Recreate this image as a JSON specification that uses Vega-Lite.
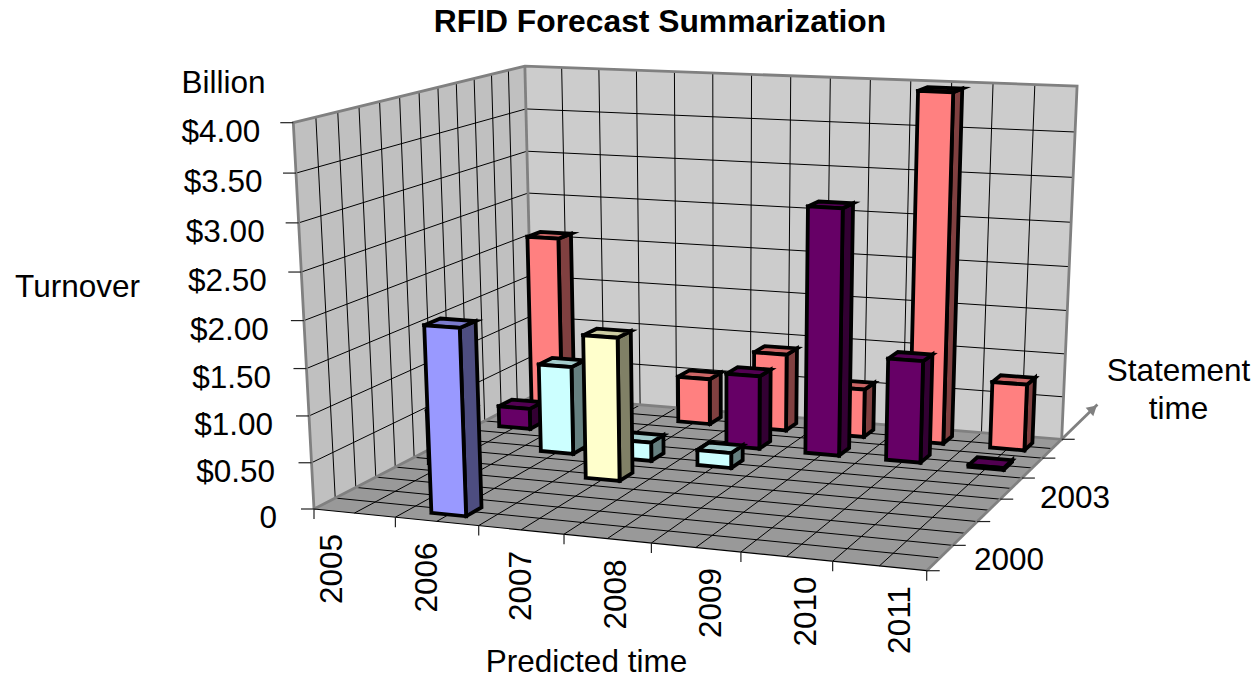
{
"$schema":"https://vega.github.io/schema/vega-lite/v6.json",
"width":1260,"height":677,"padding":0,"autosize":{"type":"none"},"background":"white",
"title":{"text":"RFID Forecast Summarization","font":"Liberation Sans","fontSize":31.8,"fontWeight":"bold","color":"#000","anchor":"middle","dx":30,"offset":-39},
"config":{"view":{"stroke":null}},
"datasets":{
"bars":[
{"predicted":2005,"statement":2005,"turnover":2.09},
{"predicted":2007,"statement":2005,"turnover":0.54},
{"predicted":2008,"statement":2005,"turnover":0.9},
{"predicted":2009,"statement":2005,"turnover":0.56},
{"predicted":2010,"statement":2005,"turnover":3.96},
{"predicted":2011,"statement":2005,"turnover":0.76},
{"predicted":2005,"statement":2004,"turnover":0.24},
{"predicted":2008,"statement":2004,"turnover":0.84},
{"predicted":2009,"statement":2004,"turnover":2.78},
{"predicted":2010,"statement":2004,"turnover":1.15},
{"predicted":2011,"statement":2004,"turnover":0.02},
{"predicted":2006,"statement":2003,"turnover":1.0},
{"predicted":2007,"statement":2003,"turnover":0.21},
{"predicted":2008,"statement":2003,"turnover":0.17},
{"predicted":2005,"statement":2002,"turnover":0.6},
{"predicted":2007,"statement":2002,"turnover":1.58},
{"predicted":2006,"statement":2000,"turnover":1.98}
],
"frame":[
{"part":"floor","n":0,"predicted":2005,"statement":2000,"turnover":0},
{"part":"floor","n":1,"predicted":2012,"statement":2000,"turnover":0},
{"part":"floor","n":2,"predicted":2012,"statement":2006,"turnover":0},
{"part":"floor","n":3,"predicted":2005,"statement":2006,"turnover":0},
{"part":"floor","n":4,"predicted":2005,"statement":2000,"turnover":0},
{"part":"left","n":0,"predicted":2005,"statement":2000,"turnover":0},
{"part":"left","n":1,"predicted":2005,"statement":2006,"turnover":0},
{"part":"left","n":2,"predicted":2005,"statement":2006,"turnover":4},
{"part":"left","n":3,"predicted":2005,"statement":2000,"turnover":4},
{"part":"left","n":4,"predicted":2005,"statement":2000,"turnover":0},
{"part":"back","n":0,"predicted":2005,"statement":2006,"turnover":0},
{"part":"back","n":1,"predicted":2012,"statement":2006,"turnover":0},
{"part":"back","n":2,"predicted":2012,"statement":2006,"turnover":4},
{"part":"back","n":3,"predicted":2005,"statement":2006,"turnover":4},
{"part":"back","n":4,"predicted":2005,"statement":2006,"turnover":0},
{"part":"rim1","n":0,"predicted":2005,"statement":2000,"turnover":0},
{"part":"rim1","n":1,"predicted":2005,"statement":2000,"turnover":4},
{"part":"rim1","n":2,"predicted":2005,"statement":2006,"turnover":4},
{"part":"rim1","n":3,"predicted":2012,"statement":2006,"turnover":4},
{"part":"rim1","n":4,"predicted":2012,"statement":2006,"turnover":0},
{"part":"rim1","n":5,"predicted":2005,"statement":2006,"turnover":0},
{"part":"rim1","n":6,"predicted":2005,"statement":2000,"turnover":0},
{"part":"rim2","n":0,"predicted":2005,"statement":2006,"turnover":4},
{"part":"rim2","n":1,"predicted":2005,"statement":2006,"turnover":0},
{"part":"rim3","n":0,"predicted":2012,"statement":2000,"turnover":0},
{"part":"rim3","n":1,"predicted":2012,"statement":2008,"turnover":0},
{"part":"front","n":0,"predicted":2005,"statement":2000,"turnover":0},
{"part":"front","n":1,"predicted":2012,"statement":2000,"turnover":0},
{"part":"head","n":0,"predicted":2012,"statement":2007.75,"turnover":0}
],
"grid":[
{"gridOf":"turnover","at":0.5},{"gridOf":"turnover","at":1},{"gridOf":"turnover","at":1.5},{"gridOf":"turnover","at":2},{"gridOf":"turnover","at":2.5},{"gridOf":"turnover","at":3},{"gridOf":"turnover","at":3.5},
{"gridOf":"predicted","at":2005.5},{"gridOf":"predicted","at":2006},{"gridOf":"predicted","at":2006.5},{"gridOf":"predicted","at":2007},{"gridOf":"predicted","at":2007.5},{"gridOf":"predicted","at":2008},{"gridOf":"predicted","at":2008.5},{"gridOf":"predicted","at":2009},{"gridOf":"predicted","at":2009.5},{"gridOf":"predicted","at":2010},{"gridOf":"predicted","at":2010.5},{"gridOf":"predicted","at":2011},{"gridOf":"predicted","at":2011.5},
{"gridOf":"statement","at":2000.5},{"gridOf":"statement","at":2001},{"gridOf":"statement","at":2001.5},{"gridOf":"statement","at":2002},{"gridOf":"statement","at":2002.5},{"gridOf":"statement","at":2003},{"gridOf":"statement","at":2003.5},{"gridOf":"statement","at":2004},{"gridOf":"statement","at":2004.5},{"gridOf":"statement","at":2005},{"gridOf":"statement","at":2005.5}
],
"sideTicks":[
{"predicted":2005,"statement":2000,"turnover":0,"dir":-1,"label":"0"},
{"predicted":2005,"statement":2000,"turnover":0.5,"dir":-1,"label":"$0.50"},
{"predicted":2005,"statement":2000,"turnover":1,"dir":-1,"label":"$1.00"},
{"predicted":2005,"statement":2000,"turnover":1.5,"dir":-1,"label":"$1.50"},
{"predicted":2005,"statement":2000,"turnover":2,"dir":-1,"label":"$2.00"},
{"predicted":2005,"statement":2000,"turnover":2.5,"dir":-1,"label":"$2.50"},
{"predicted":2005,"statement":2000,"turnover":3,"dir":-1,"label":"$3.00"},
{"predicted":2005,"statement":2000,"turnover":3.5,"dir":-1,"label":"$3.50"},
{"predicted":2005,"statement":2000,"turnover":4,"dir":-1,"label":"$4.00"},
{"predicted":2012,"statement":2000,"turnover":0,"dir":1,"label":""},
{"predicted":2012,"statement":2001,"turnover":0,"dir":1,"label":""},
{"predicted":2012,"statement":2002,"turnover":0,"dir":1,"label":""},
{"predicted":2012,"statement":2003,"turnover":0,"dir":1,"label":""},
{"predicted":2012,"statement":2004,"turnover":0,"dir":1,"label":""},
{"predicted":2012,"statement":2005,"turnover":0,"dir":1,"label":""},
{"predicted":2012,"statement":2006,"turnover":0,"dir":1,"label":""}
],
"frontTicks":[
{"predicted":2005,"statement":2000,"turnover":0},{"predicted":2006,"statement":2000,"turnover":0},{"predicted":2007,"statement":2000,"turnover":0},{"predicted":2008,"statement":2000,"turnover":0},{"predicted":2009,"statement":2000,"turnover":0},{"predicted":2010,"statement":2000,"turnover":0},{"predicted":2011,"statement":2000,"turnover":0},{"predicted":2012,"statement":2000,"turnover":0}
],
"years":[{"year":2005},{"year":2006},{"year":2007},{"year":2008},{"year":2009},{"year":2010},{"year":2011}],
"statements":[{"year":2000},{"year":2003}]
},
"encoding":{
"x":{"field":"X","type":"quantitative","scale":{"domain":[0,1260],"zero":false,"nice":false},"axis":null},
"y":{"field":"Y","type":"quantitative","scale":{"domain":[677,0],"zero":false,"nice":false},"axis":null}
},
"resolve":{"axis":{"x":"independent","y":"independent"},"scale":{"fill":"independent"}},
"layer":[
{"data":{"name":"frame"},
"transform":[{"filter":"indexof(['floor','left','back'],datum.part)>=0"},
{"calculate":"(datum.predicted-2005)/7","as":"u"},{"calculate":"(datum.statement-2000)/6","as":"v"},{"calculate":"datum.turnover/4","as":"z"},{"calculate":"1-0.08087*datum.u+0.17953*datum.v-0.048*datum.z","as":"w"},{"calculate":"(537.76*datum.u+314.69*datum.v+314-34.8*datum.z)/datum.w","as":"X"},{"calculate":"(15.55*datum.u-41.91*datum.v+509-392.2*datum.z)/datum.w","as":"Y"}],
"mark":{"type":"line","strokeWidth":0,"clip":false},
"encoding":{
"x":{"field":"X","type":"quantitative","axis":{"orient":"bottom","title":"Predicted time","domain":false,"ticks":false,"labels":false,"grid":false,"titleX":586,"titleY":-15,"titleAlign":"center","titleBaseline":"middle","titleAngle":0,"titleFont":"Liberation Sans","titleFontSize":31.5,"titleFontWeight":"normal","titleColor":"#000"}},
"y":{"field":"Y","type":"quantitative","axis":{"orient":"left","title":"Turnover","domain":false,"ticks":false,"labels":false,"grid":false,"titleX":77,"titleY":287,"titleAlign":"center","titleBaseline":"middle","titleAngle":0,"titleFont":"Liberation Sans","titleFontSize":31.5,"titleFontWeight":"normal","titleColor":"#000"}},
"order":{"field":"n"},"detail":{"field":"part"},
"fill":{"field":"part","type":"nominal","legend":null,"scale":{"domain":["floor","left","back"],"range":["#999999","#C0C0C0","#CCCCCC"]}}}},
{"data":{"name":"grid"},
"transform":[{"calculate":"[0,1,2]","as":"cs"},{"flatten":["cs"],"as":["c"]},
{"calculate":"datum.gridOf=='predicted'?datum.at:(datum.gridOf=='turnover'?[2005,2005,2012][datum.c]:[2012,2005,2005][datum.c])","as":"predicted"},
{"calculate":"datum.gridOf=='statement'?datum.at:[2000,2006,2006][datum.c]","as":"statement"},
{"calculate":"datum.gridOf=='turnover'?datum.at:[0,0,4][datum.c]","as":"turnover"},
{"calculate":"datum.gridOf+datum.at","as":"gid"},
{"calculate":"(datum.predicted-2005)/7","as":"u"},{"calculate":"(datum.statement-2000)/6","as":"v"},{"calculate":"datum.turnover/4","as":"z"},{"calculate":"1-0.08087*datum.u+0.17953*datum.v-0.048*datum.z","as":"w"},{"calculate":"(537.76*datum.u+314.69*datum.v+314-34.8*datum.z)/datum.w","as":"X"},{"calculate":"(15.55*datum.u-41.91*datum.v+509-392.2*datum.z)/datum.w","as":"Y"}],
"mark":{"type":"line","stroke":"#000","strokeWidth":1},
"encoding":{"order":{"field":"c"},"detail":{"field":"gid"}}},
{"data":{"name":"frame"},
"transform":[{"filter":"indexof(['rim1','rim2','rim3'],datum.part)>=0"},
{"calculate":"(datum.predicted-2005)/7","as":"u"},{"calculate":"(datum.statement-2000)/6","as":"v"},{"calculate":"datum.turnover/4","as":"z"},{"calculate":"1-0.08087*datum.u+0.17953*datum.v-0.048*datum.z","as":"w"},{"calculate":"(537.76*datum.u+314.69*datum.v+314-34.8*datum.z)/datum.w","as":"X"},{"calculate":"(15.55*datum.u-41.91*datum.v+509-392.2*datum.z)/datum.w","as":"Y"}],
"mark":{"type":"line","stroke":"#808080","strokeWidth":2.8},
"encoding":{
"x":{"field":"X","type":"quantitative","axis":{"orient":"top","title":"Billion","domain":false,"ticks":false,"labels":false,"grid":false,"titleX":223,"titleY":83,"titleAlign":"center","titleBaseline":"middle","titleAngle":0,"titleFont":"Liberation Sans","titleFontSize":31.5,"titleFontWeight":"normal","titleColor":"#000"}},
"y":{"field":"Y","type":"quantitative","axis":{"orient":"right","title":["Statement","time"],"domain":false,"ticks":false,"labels":false,"grid":false,"titleX":-82,"titleY":371,"titleAlign":"center","titleBaseline":"middle","titleAngle":0,"titleFont":"Liberation Sans","titleFontSize":31.5,"titleFontWeight":"normal","titleColor":"#000","titleLineHeight":38}},
"order":{"field":"n"},"detail":{"field":"part"}}},
{"data":{"name":"frame"},
"transform":[{"filter":"datum.part=='front'"},
{"calculate":"(datum.predicted-2005)/7","as":"u"},{"calculate":"(datum.statement-2000)/6","as":"v"},{"calculate":"datum.turnover/4","as":"z"},{"calculate":"1-0.08087*datum.u+0.17953*datum.v-0.048*datum.z","as":"w"},{"calculate":"(537.76*datum.u+314.69*datum.v+314-34.8*datum.z)/datum.w","as":"X"},{"calculate":"(15.55*datum.u-41.91*datum.v+509-392.2*datum.z)/datum.w","as":"Y"}],
"mark":{"type":"line","stroke":"#000","strokeWidth":1.2},
"encoding":{"order":{"field":"n"}}},
{"data":{"name":"frame"},
"transform":[{"filter":"datum.part=='head'"},
{"calculate":"(datum.predicted-2005)/7","as":"u"},{"calculate":"(datum.statement-2000)/6","as":"v"},{"calculate":"datum.turnover/4","as":"z"},{"calculate":"1-0.08087*datum.u+0.17953*datum.v-0.048*datum.z","as":"w"},{"calculate":"(537.76*datum.u+314.69*datum.v+314-34.8*datum.z)/datum.w","as":"X"},{"calculate":"(15.55*datum.u-41.91*datum.v+509-392.2*datum.z)/datum.w","as":"Y"}],
"mark":{"type":"point","shape":"triangle-up","filled":true,"fill":"#808080","stroke":null,"size":130,"angle":48,"opacity":1}},
{"data":{"name":"sideTicks"},
"transform":[
{"calculate":"(datum.predicted-2005)/7","as":"u"},{"calculate":"(datum.statement-2000)/6","as":"v"},{"calculate":"datum.turnover/4","as":"z"},{"calculate":"1-0.08087*datum.u+0.17953*datum.v-0.048*datum.z","as":"w"},{"calculate":"(537.76*datum.u+314.69*datum.v+314-34.8*datum.z)/datum.w","as":"X"},{"calculate":"(15.55*datum.u-41.91*datum.v+509-392.2*datum.z)/datum.w","as":"Y"},{"calculate":"datum.X+13*datum.dir","as":"X2"}],
"mark":{"type":"rule","stroke":"#222","strokeWidth":1.2},
"encoding":{"x2":{"field":"X2"}}},
{"data":{"name":"frontTicks"},
"transform":[
{"calculate":"(datum.predicted-2005)/7","as":"u"},{"calculate":"(datum.statement-2000)/6","as":"v"},{"calculate":"datum.turnover/4","as":"z"},{"calculate":"1-0.08087*datum.u+0.17953*datum.v-0.048*datum.z","as":"w"},{"calculate":"(537.76*datum.u+314.69*datum.v+314-34.8*datum.z)/datum.w","as":"X"},{"calculate":"(15.55*datum.u-41.91*datum.v+509-392.2*datum.z)/datum.w","as":"Y"},{"calculate":"datum.Y+10","as":"Y2"}],
"mark":{"type":"rule","stroke":"#222","strokeWidth":1.2},
"encoding":{"y2":{"field":"Y2"}}},
{"data":{"name":"bars"},
"transform":[
{"calculate":"['side','top','front']","as":"faces"},{"flatten":["faces"],"as":["face"]},
{"calculate":"[0,1,2,3,4]","as":"cs"},{"flatten":["cs"],"as":["c"]},
{"calculate":"datum.face=='side'?1:[-1,1,1,-1,-1][datum.c]","as":"su"},
{"calculate":"datum.face=='front'?-1:(datum.face=='side'?[-1,1,1,-1,-1][datum.c]:[-1,-1,1,1,-1][datum.c])","as":"sv"},
{"calculate":"datum.face=='top'?1:[0,0,1,1,0][datum.c]","as":"lift"},
{"calculate":"(datum.predicted+0.5+0.21*datum.su-2005)/7","as":"u"},
{"calculate":"(datum.statement+0.5+0.2*datum.sv-2000)/6","as":"v"},
{"calculate":"datum.lift*datum.turnover/4","as":"z"},
{"calculate":"1-0.08087*datum.u+0.17953*datum.v-0.048*datum.z","as":"w"},{"calculate":"(537.76*datum.u+314.69*datum.v+314-34.8*datum.z)/datum.w","as":"X"},{"calculate":"(15.55*datum.u-41.91*datum.v+509-392.2*datum.z)/datum.w","as":"Y"},
{"calculate":"datum.statement+'-'+datum.face","as":"paint"},
{"calculate":"datum.statement+'-'+datum.predicted+'-'+datum.face","as":"id"}],
"mark":{"type":"line","stroke":"#000","strokeWidth":3.8,"strokeJoin":"miter","strokeMiterLimit":10,"strokeCap":"square"},
"encoding":{"order":{"field":"c"},"detail":{"field":"id"},
"fill":{"field":"paint","type":"nominal","legend":null,"scale":{
"domain":["2000-front","2000-side","2000-top","2002-front","2002-side","2002-top","2003-front","2003-side","2003-top","2004-front","2004-side","2004-top","2005-front","2005-side","2005-top"],
"range":["#9999FF","#4D4D80","#7A7ACC","#FFFFCC","#808066","#CCCCA3","#CCFFFF","#668080","#A3CCCC","#660066","#330033","#520052","#FF8080","#804040","#CC6666"]}}}},
{"data":{"name":"years"},
"transform":[{"calculate":"333+94.7*(datum.year-2005)","as":"X"},{"calculate":"569+8.5*(datum.year-2005)","as":"Y"},{"calculate":"''+datum.year","as":"label"}],
"mark":{"type":"text","font":"Liberation Sans","fontSize":31.5,"angle":270,"align":"center","baseline":"middle","fill":"#000"},
"encoding":{"text":{"field":"label"}}},
{"data":{"name":"statements"},
"transform":[{"calculate":"974+22*(datum.year-2000)","as":"X"},{"calculate":"561-20.67*(datum.year-2000)","as":"Y"},{"calculate":"''+datum.year","as":"label"}],
"mark":{"type":"text","font":"Liberation Sans","fontSize":31.5,"align":"left","baseline":"middle","fill":"#000"},
"encoding":{"text":{"field":"label"}}},
{"data":{"name":"sideTicks"},
"transform":[{"filter":"datum.dir==-1"},
{"calculate":"(datum.predicted-2005)/7","as":"u"},{"calculate":"(datum.statement-2000)/6","as":"v"},{"calculate":"datum.turnover/4","as":"z"},{"calculate":"1-0.08087*datum.u+0.17953*datum.v-0.048*datum.z","as":"w"},{"calculate":"(537.76*datum.u+314.69*datum.v+314-34.8*datum.z)/datum.w-37+4*datum.z","as":"X"},{"calculate":"(15.55*datum.u-41.91*datum.v+509-392.2*datum.z)/datum.w+10","as":"Y"}],
"mark":{"type":"text","font":"Liberation Sans","fontSize":31.5,"align":"right","baseline":"middle","fill":"#000"},
"encoding":{"text":{"field":"label"}}}
]
}
